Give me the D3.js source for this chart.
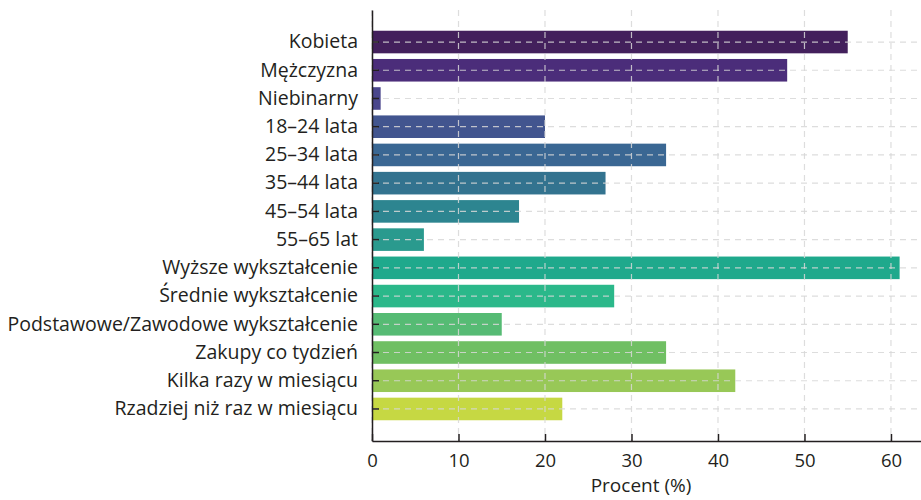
<!DOCTYPE html>
<html><head><meta charset="utf-8">
<script src="https://cdn.jsdelivr.net/npm/d3@7"></script>
<style>body{margin:0;background:#fff}svg{display:block}text{font-family:"Open Sans",sans-serif;fill:#231f20}</style>
</head><body><svg id="c" width="921" height="500"></svg>
<script>
const categories = ["Kobieta","Mężczyzna","Niebinarny","18–24 lata","25–34 lata","35–44 lata","45–54 lata","55–65 lat","Wyższe wykształcenie","Średnie wykształcenie","Podstawowe/Zawodowe wykształcenie","Zakupy co tydzień","Kilka razy w miesiącu","Rzadziej niż raz w miesiącu"];
const values = [55,48,1,20,34,27,17,6,61,28,15,34,42,22];
const xTicks = [0,10,20,30,40,50,60];
const xLabel = "Procent (%)";
const colors = ["#43205c","#4b2d7a","#4a468c","#42558f","#3a6793","#33738f","#2d8590","#2a9a8e","#1fa98c","#2bb88a","#56bb74","#70bf63","#98c857","#c6d843"];

const svg = d3.select("#c");
const L = 372, R = 926, T = 10, B = 441;
const x = d3.scaleLinear().domain([0, 64.05]).range([L, R]);
const y = d3.scaleBand().domain(categories).range([T, B]).paddingInner(0.2).paddingOuter(0.735);

svg.append("g").selectAll("rect").data(categories).join("rect")
  .attr("x", x(0)).attr("y", d => y(d))
  .attr("width", (d,i) => x(values[i]) - x(0))
  .attr("height", y.bandwidth())
  .attr("fill", (d,i) => colors[i]);

const grid = svg.append("g").attr("stroke", "rgba(215,215,215,0.85)").attr("stroke-width", 1.2).attr("stroke-dasharray", "6,5");
grid.selectAll("line.v").data(xTicks).join("line").attr("class","v")
  .attr("x1", d => x(d)).attr("x2", d => x(d)).attr("y1", T).attr("y2", B);
grid.selectAll("line.h").data(categories).join("line").attr("class","h")
  .attr("x1", L).attr("x2", 921).attr("y1", d => y(d) + y.bandwidth()/2).attr("y2", d => y(d) + y.bandwidth()/2);

const xAxis = svg.append("g").attr("transform", `translate(0,${B})`)
  .call(d3.axisBottom(x).tickValues(xTicks).tickSizeInner(-7).tickSizeOuter(0).tickPadding(14));
const yAxis = svg.append("g").attr("transform", `translate(${L},0)`)
  .call(d3.axisLeft(y).tickSizeInner(-7).tickSizeOuter(0).tickPadding(14));
[xAxis, yAxis].forEach(a => {
  a.select(".domain").attr("stroke", "#231f20").attr("stroke-width", 1.5);
  a.selectAll(".tick line").attr("stroke", "#231f20").attr("stroke-width", 1.5);
  a.selectAll(".tick text").attr("font-family", '"Open Sans",sans-serif').attr("fill", "#231f20");
});
xAxis.selectAll(".tick text").attr("font-size", 18.5).attr("y", 13);
yAxis.selectAll(".tick text").attr("font-size", 19.5).attr("x", -14);
svg.append("text").attr("x", (L + R)/2 - 8).attr("y", 492).attr("text-anchor", "middle").attr("font-size", 19).text(xLabel);
</script></body></html>
